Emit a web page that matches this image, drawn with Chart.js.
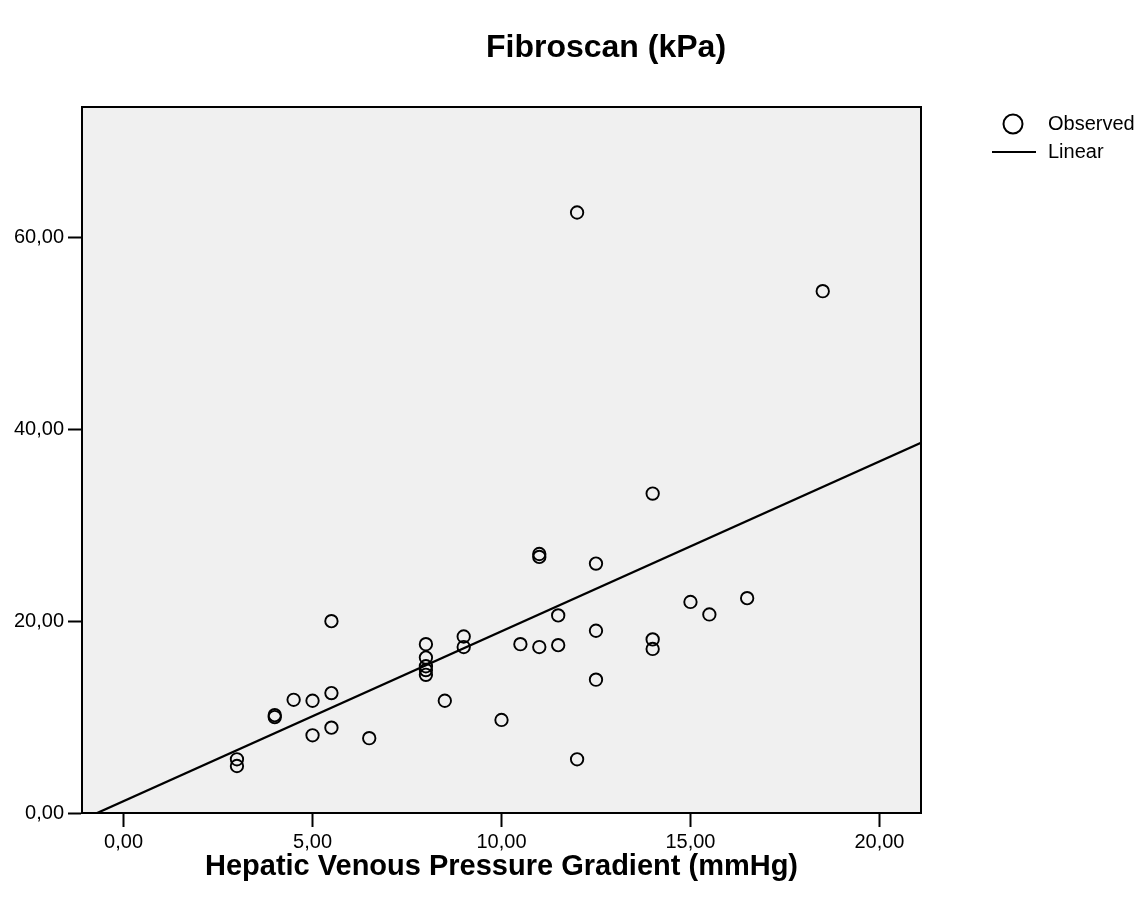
<!DOCTYPE html>
<html>
<head>
<meta charset="utf-8">
<script src="https://cdn.jsdelivr.net/npm/chart.js@4/dist/chart.umd.min.js"></script>
<style>
html,body{margin:0;padding:0;background:#fff;}
#wrap{width:1146px;height:897px;}
</style>
</head>
<body>
<div id="wrap"><canvas id="c" width="1146" height="897"></canvas></div>
<script>
// Observed points: HVPG (mmHg) vs Fibroscan (kPa)
const hvpg  = [3,3,4,4,4.5,5,5,5.5,5.5,5.5,6.5,8,8,8,8,8,8.5,9,9,10,10.5,11,11,11,11.5,11.5,12,12,12.5,12.5,12.5,14,14,14,15,15.5,16.5,18.5];
const fibro = [5.6,4.9,10.2,10.0,11.8,11.7,8.1,20.0,12.5,8.9,7.8,17.6,16.2,15.3,14.9,14.4,11.7,18.4,17.3,9.7,17.6,27.0,26.7,17.3,20.6,17.5,62.6,5.6,26.0,19.0,13.9,33.3,18.1,17.1,22.0,20.7,22.4,54.4];
// Linear fit line, read at its two visible ends
const lineX = [-0.7, 21.1];
const lineY = [0, 38.6];
// Tick labels
const xTicks = [0,5,10,15,20];
const yTicks = [0,20,40,60];
const titleText = 'Fibroscan (kPa)';
const xTitleText = 'Hepatic Venous Pressure Gradient (mmHg)';
const legendLabels = ['Observed','Linear'];

const FONT = '"Liberation Sans", Arial, Helvetica, sans-serif';
const fmt = v => v.toFixed(2).replace('.', ',');

const decor = {
  id: 'decor',
  beforeDraw(chart) {
    const {ctx, chartArea: a} = chart;
    ctx.save();
    ctx.fillStyle = '#f0f0f0';
    ctx.fillRect(a.left, a.top, a.right - a.left, a.bottom - a.top);
    ctx.restore();
  },
  afterDraw(chart) {
    const {ctx, chartArea: a} = chart;
    ctx.save();
    ctx.strokeStyle = '#000';
    ctx.lineWidth = 2;
    ctx.beginPath();
    ctx.moveTo(a.left, a.top); ctx.lineTo(a.right, a.top); ctx.lineTo(a.right, a.bottom);
    ctx.stroke();
    // title
    ctx.fillStyle = '#000';
    ctx.font = 'bold 32px ' + FONT;
    ctx.textAlign = 'center';
    ctx.textBaseline = 'middle';
    ctx.fillText(titleText, 606, 48);
    // legend
    ctx.font = '20px ' + FONT;
    ctx.textAlign = 'left';
    ctx.beginPath();
    ctx.arc(1013, 124, 9.5, 0, Math.PI * 2);
    ctx.lineWidth = 2;
    ctx.stroke();
    ctx.fillText(legendLabels[0], 1048, 124);
    ctx.beginPath();
    ctx.moveTo(992, 152); ctx.lineTo(1036, 152);
    ctx.stroke();
    ctx.fillText(legendLabels[1], 1048, 152);
    ctx.restore();
  }
};

new Chart(document.getElementById('c'), {
  type: 'scatter',
  data: {
    datasets: [
      {
        label: legendLabels[0],
        data: hvpg.map((x, i) => ({x: x, y: fibro[i]})),
        pointStyle: 'circle',
        pointRadius: 6.2,
        pointBorderWidth: 1.9,
        borderColor: '#000',
        backgroundColor: 'rgba(0,0,0,0)',
        pointHoverRadius: 6.2
      },
      {
        label: legendLabels[1],
        type: 'line',
        data: lineX.map((x, i) => ({x: x, y: lineY[i]})),
        borderColor: '#000',
        borderWidth: 2.3,
        pointRadius: 0,
        fill: false
      }
    ]
  },
  options: {
    responsive: false,
    animation: false,
    devicePixelRatio: 1,
    layout: {padding: {top: 107, right: 225, bottom: 0, left: 0}},
    plugins: {legend: {display: false}, title: {display: false}, tooltip: {enabled: false}},
    scales: {
      x: {
        type: 'linear',
        min: -1.1, max: 21.1,
        afterBuildTicks: s => { s.ticks = xTicks.map(v => ({value: v})); },
        afterFit: s => { s.height = 84; },
        grid: {display: true, drawOnChartArea: false, drawTicks: true, tickLength: 14, tickWidth: 2, tickColor: '#000'},
        border: {display: true, color: '#000', width: 2},
        ticks: {color: '#000', font: {family: FONT, size: 20}, padding: 3, callback: v => fmt(v), maxRotation: 0},
        title: {display: true, text: xTitleText, color: '#000', font: {family: FONT, size: 29, weight: 'bold'}, padding: {top: 0, bottom: 13}}
      },
      y: {
        type: 'linear',
        min: 0, max: 73.6,
        afterBuildTicks: s => { s.ticks = yTicks.map(v => ({value: v})); },
        afterFit: s => { s.width = 82; },
        grid: {display: true, drawOnChartArea: false, drawTicks: true, tickLength: 14, tickWidth: 2, tickColor: '#000'},
        border: {display: true, color: '#000', width: 2},
        ticks: {color: '#000', font: {family: FONT, size: 20}, padding: 4, callback: v => fmt(v)}
      }
    }
  },
  plugins: [decor]
});
</script>
</body>
</html>
